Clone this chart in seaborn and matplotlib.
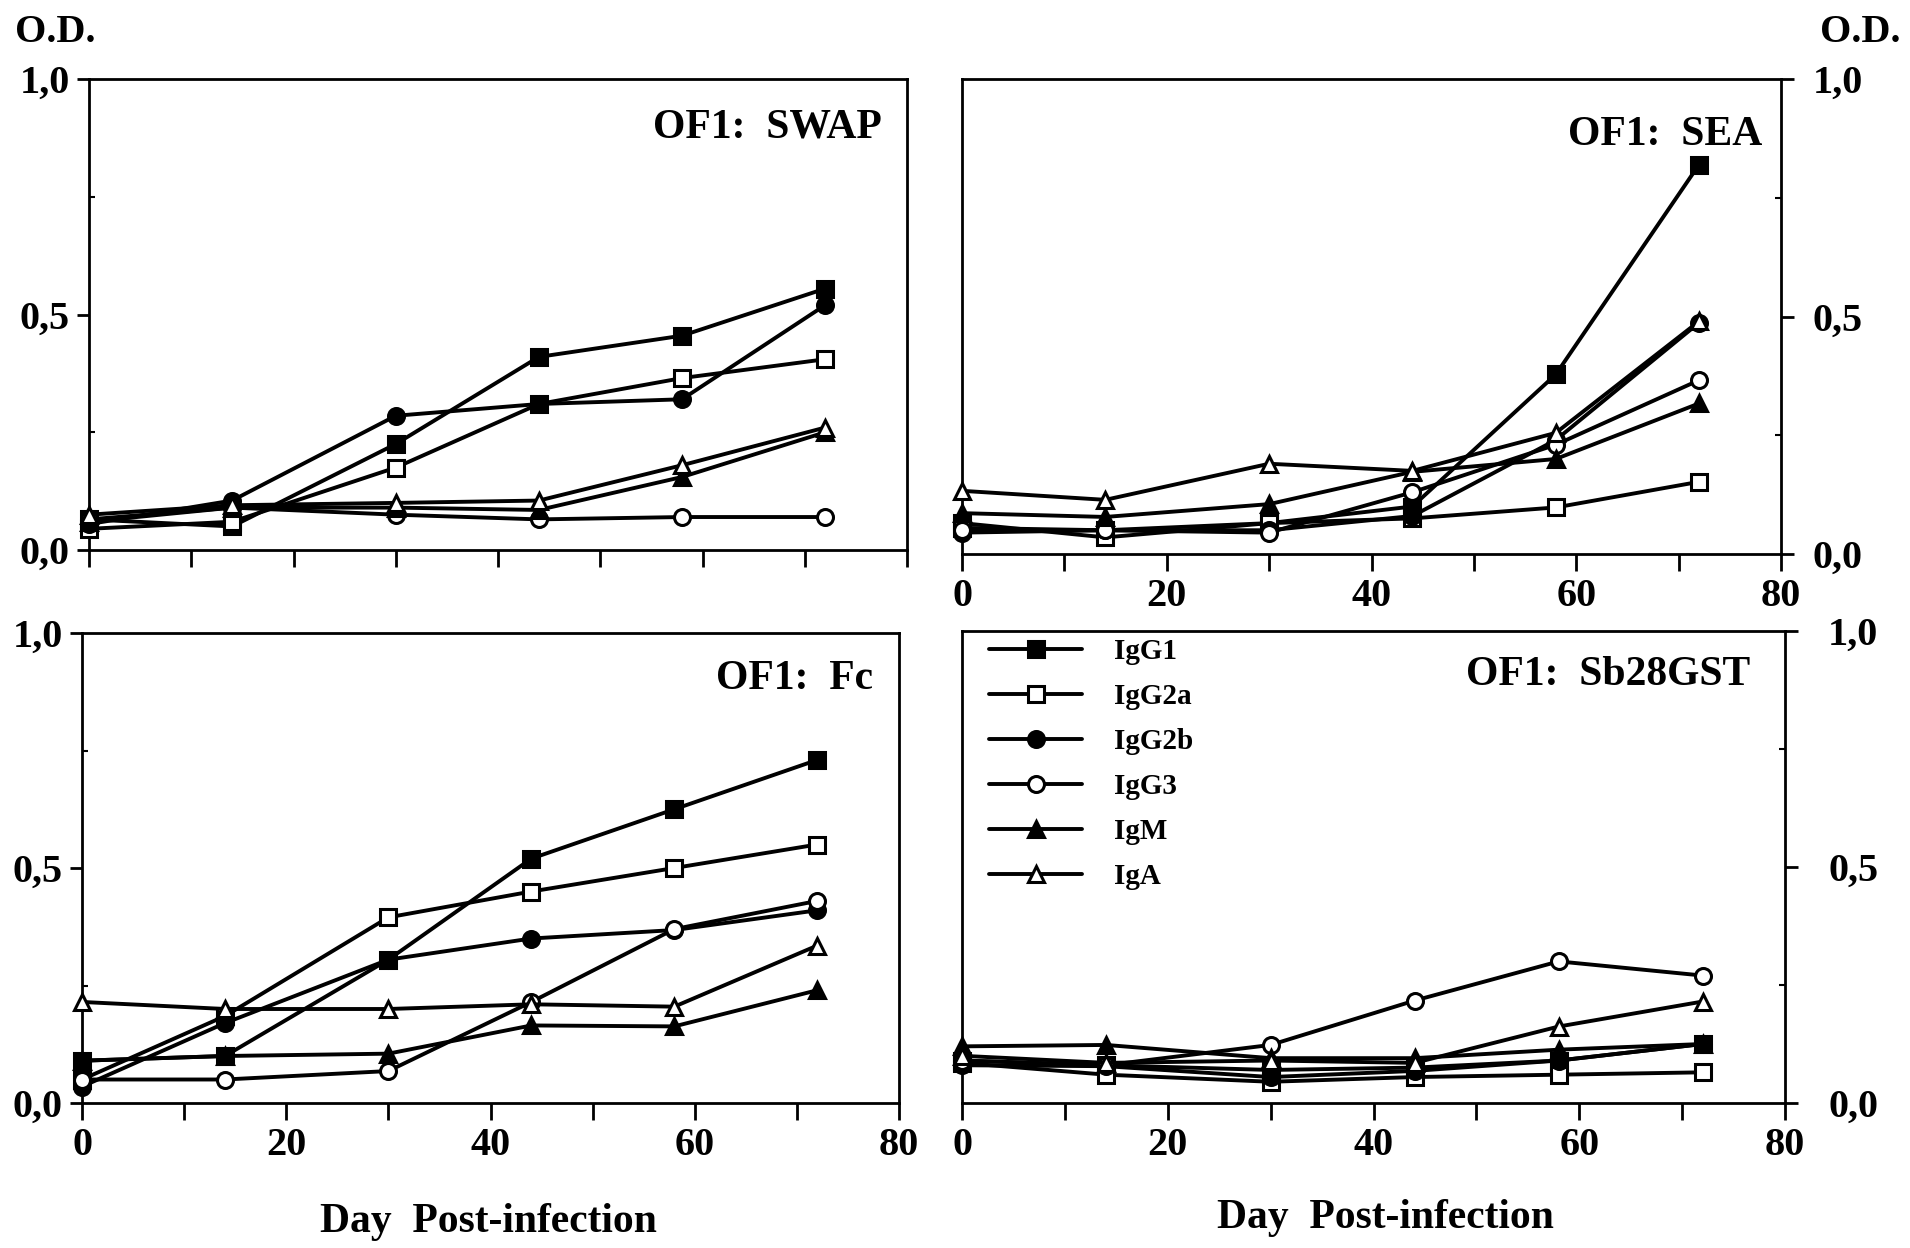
import matplotlib
matplotlib.use("Agg")
import matplotlib.pyplot as plt
import seaborn as sns
import pandas as pd

sns.set_theme(style="white")
plt.rcParams["font.family"] = ["Liberation Serif", "DejaVu Serif"]
plt.rcParams["font.weight"] = "bold"
plt.rcParams["text.color"] = "black"
plt.rcParams["axes.labelcolor"] = "black"
plt.rcParams["xtick.color"] = "black"
plt.rcParams["ytick.color"] = "black"

# Sampling days (post-infection)
days = [0, 14, 30, 44, 58, 72]
isotypes = ["IgG1", "IgG2a", "IgG2b", "IgG3", "IgM", "IgA"]

# O.D. values per antigen, one list per isotype
swap_igg1 = [0.065, 0.05, 0.225, 0.41, 0.455, 0.555]
swap_igg2a = [0.045, 0.06, 0.175, 0.31, 0.365, 0.405]
swap_igg2b = [0.055, 0.105, 0.285, 0.31, 0.32, 0.52]
swap_igg3 = [0.065, 0.09, 0.075, 0.065, 0.07, 0.07]
swap_igm = [0.06, 0.09, 0.09, 0.085, 0.155, 0.25]
swap_iga = [0.075, 0.095, 0.1, 0.105, 0.18, 0.26]

sea_igg1 = [0.055, 0.05, 0.065, 0.1, 0.378, 0.82]
sea_igg2a = [0.065, 0.035, 0.065, 0.075, 0.098, 0.152]
sea_igg2b = [0.045, 0.05, 0.05, 0.08, 0.24, 0.487]
sea_igg3 = [0.05, 0.05, 0.045, 0.13, 0.23, 0.366]
sea_igm = [0.086, 0.078, 0.105, 0.173, 0.2, 0.317]
sea_iga = [0.133, 0.114, 0.19, 0.175, 0.255, 0.49]

fc_igg1 = [0.09, 0.1, 0.305, 0.52, 0.625, 0.73]
fc_igg2a = [0.05, 0.185, 0.395, 0.45, 0.5, 0.55]
fc_igg2b = [0.035, 0.17, 0.305, 0.35, 0.368, 0.41]
fc_igg3 = [0.05, 0.05, 0.068, 0.215, 0.37, 0.43]
fc_igm = [0.09, 0.1, 0.105, 0.165, 0.163, 0.24]
fc_iga = [0.215, 0.2, 0.2, 0.21, 0.205, 0.335]

gst_igg1 = [0.09, 0.08, 0.07, 0.075, 0.09, 0.125]
gst_igg2a = [0.085, 0.06, 0.045, 0.055, 0.06, 0.065]
gst_igg2b = [0.08, 0.078, 0.055, 0.068, 0.09, 0.125]
gst_igg3 = [0.09, 0.08, 0.123, 0.217, 0.3, 0.27]
gst_igm = [0.12, 0.123, 0.095, 0.095, 0.113, 0.125]
gst_iga = [0.1, 0.085, 0.09, 0.085, 0.162, 0.215]

panel_titles = ["OF1:  SWAP", "OF1:  SEA", "OF1:  Fc", "OF1:  Sb28GST"]
panel_series = [
    [swap_igg1, swap_igg2a, swap_igg2b, swap_igg3, swap_igm, swap_iga],
    [sea_igg1, sea_igg2a, sea_igg2b, sea_igg3, sea_igm, sea_iga],
    [fc_igg1, fc_igg2a, fc_igg2b, fc_igg3, fc_igm, fc_iga],
    [gst_igg1, gst_igg2a, gst_igg2b, gst_igg3, gst_igm, gst_iga],
]

x_ticks = list(range(0, 81, 10))
x_labels = ["0", "", "20", "", "40", "", "60", "", "80"]
y_ticks = [0.0, 0.5, 1.0]
y_labels = ["0,0", "0,5", "1,0"]

# marker, filled?
styles = {
    "IgG1": ("s", True),
    "IgG2a": ("s", False),
    "IgG2b": ("o", True),
    "IgG3": ("o", False),
    "IgM": ("^", True),
    "IgA": ("^", False),
}

W, H = 1910, 1248
fig = plt.figure(figsize=(W / 100, H / 100), dpi=100)


def px_axes(left, top, right, bottom):
    return fig.add_axes([left / W, 1 - bottom / H, (right - left) / W, (bottom - top) / H])


# left, top, right, bottom in pixels; y-axis side; x labels shown; y label pad; title offset
layout = [
    ((89, 79, 907, 550), "left", False, 5, (-25, -49)),
    ((962, 79, 1781, 554), "right", True, 14, (-19, -56)),
    ((82, 633, 899, 1103), "left", True, 5, (-26, -46)),
    ((962, 631, 1785, 1103), "right", True, 22, (-35, -44)),
]

axes = []
for (box, yside, show_x, ypad, toff), title, series in zip(layout, panel_titles, panel_series):
    ax = px_axes(*box)
    axes.append(ax)
    for iso, vals in zip(isotypes, series):
        mk, filled = styles[iso]
        df = pd.DataFrame({"day": days, "od": vals})
        sns.lineplot(
            data=df, x="day", y="od", ax=ax, color="black", lw=2.8,
            marker=mk, markersize=11 if mk != "o" else 11.5,
            markerfacecolor="black" if filled else "white",
            markeredgecolor="black", markeredgewidth=2.2,
            clip_on=False, label=iso, legend=False, zorder=3,
        )
    ax.set_xlim(0, 80)
    ax.set_ylim(0, 1.0)
    ax.set_xlabel("")
    ax.set_ylabel("")
    ax.set_xticks(x_ticks)
    ax.set_xticklabels(x_labels if show_x else [""] * len(x_ticks))
    ax.set_yticks(y_ticks)
    ax.set_yticklabels(y_labels)
    ax.set_yticks([0.25, 0.75], minor=True)
    for s in ax.spines.values():
        s.set_linewidth(2.0)
        s.set_color("black")
    ax.tick_params(axis="x", which="major", direction="out", length=12.5, width=2.0,
                   pad=5, labelsize=29, colors="black", bottom=True)
    ax.tick_params(axis="y", which="major", direction="out", length=9, width=2.0,
                   pad=ypad, labelsize=29, colors="black")
    ax.tick_params(axis="y", which="minor", direction="in", length=4, width=1.5)
    if yside == "right":
        ax.yaxis.tick_right()
        ax.yaxis.set_label_position("right")
        ax.tick_params(axis="y", which="both", left=False, right=True)
    else:
        ax.tick_params(axis="y", which="both", left=True, right=False)
    for lab in ax.get_xticklabels() + ax.get_yticklabels():
        lab.set_fontweight("bold")
    ax.annotate(title, xy=(1, 1), xycoords="axes fraction", xytext=toff,
                textcoords="offset pixels", ha="right", va="center",
                fontsize=30, fontweight="bold", color="black")
    ax.grid(False)

# Legend in the Sb28GST panel
handles, labels = axes[3].get_legend_handles_labels()
leg = axes[3].legend(
    handles[:6], labels[:6], loc="upper left",
    bbox_to_anchor=(989 / W, 1 - 638 / H), bbox_transform=fig.transFigure,
    frameon=False, borderpad=0, borderaxespad=0, handlelength=3.2,
    handletextpad=1.1, labelspacing=0.62, prop={"size": 21, "weight": "bold"},
)
for t in leg.get_texts():
    t.set_color("black")

# Axis captions
fig.text(15 / W, 1 - 33 / H, "O.D.", ha="left", va="center", fontsize=29,
         fontweight="bold", color="black")
fig.text(1900 / W, 1 - 33 / H, "O.D.", ha="right", va="center", fontsize=29,
         fontweight="bold", color="black")
fig.text(488 / W, 1 - 1222 / H, "Day  Post-infection", ha="center", va="center",
         fontsize=30, fontweight="bold", color="black")
fig.text(1385 / W, 1 - 1218 / H, "Day  Post-infection", ha="center", va="center",
         fontsize=30, fontweight="bold", color="black")

fig.savefig("out.png", dpi=100, facecolor="white")
